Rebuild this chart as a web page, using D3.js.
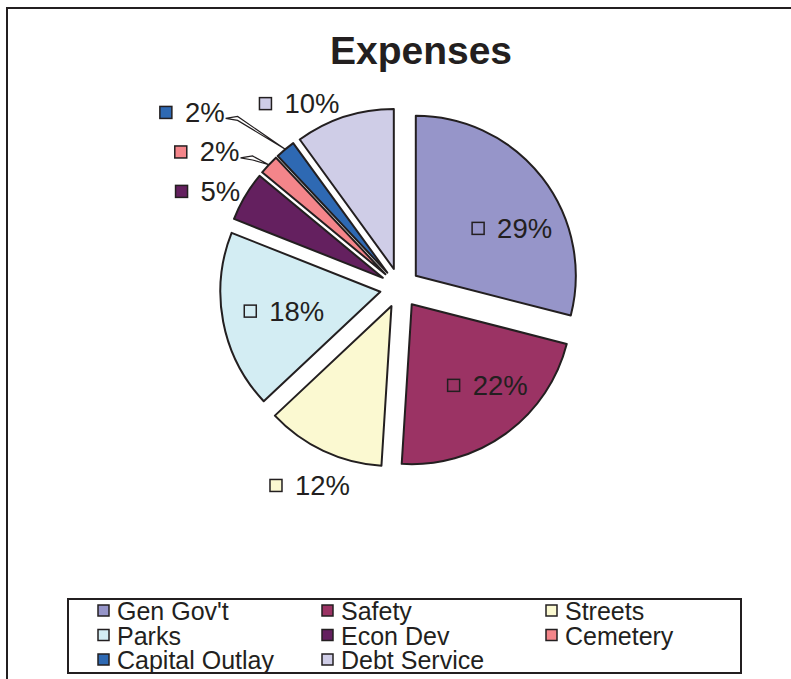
<!DOCTYPE html>
<html>
<head>
<meta charset="utf-8">
<script src="https://cdn.jsdelivr.net/npm/d3@7/dist/d3.min.js"></script>
<style>
  body { margin: 0; background: #fff; }
  svg { display: block; }
  text { font-family: "Liberation Sans", Arial, sans-serif; fill: #231f20; }
</style>
</head>
<body>
<div id="chart"></div>
<script>
// data
var categories = ["Gen Gov't", "Safety", "Streets", "Parks", "Econ Dev", "Cemetery", "Capital Outlay", "Debt Service"];
var values = [29, 22, 12, 18, 5, 2, 2, 10];
var percentLabels = ["29%", "22%", "12%", "18%", "5%", "2%", "2%", "10%"];
var colors = ["#9695c9", "#9b3364", "#fbf9d1", "#d3edf3", "#64205f", "#f4858a", "#2e69b3", "#cfcde7"];

// label placement (polar, degrees clockwise from 12 o'clock, px from pie centre)
var labelAngle = [62, 138, 204.5, 258.7, 296.7, 305.2, 310.2, 331.4];
var labelRadius = [127, 131, 217, 118, 215, 236, 272, 210];
var hasLeader = [false, false, false, false, false, true, true, false];

var width = 791, height = 679;
var cx = 400, cy = 288, radius = 160, explode = 20;
var ink = "#231f20";

var svg = d3.select("#chart")
    .append("svg")
    .attr("width", width)
    .attr("height", height);

// outer chart frame
svg.append("rect")
    .attr("x", 7)
    .attr("y", 8)
    .attr("width", 820)
    .attr("height", 700)
    .attr("fill", "none")
    .attr("stroke", ink)
    .attr("stroke-width", 2);

// title
svg.append("text")
    .attr("x", 421)
    .attr("y", 64)
    .attr("text-anchor", "middle")
    .attr("font-size", "39px")
    .attr("font-weight", "bold")
    .text("Expenses");

var pie = d3.pie().sort(null).value(function (d) { return d; });
var arcs = pie(values);
var arc = d3.arc().innerRadius(0).outerRadius(radius);

function offset(d, r) {
    var a = (d.startAngle + d.endAngle) / 2;
    return [Math.sin(a) * r, -Math.cos(a) * r];
}

var g = svg.append("g")
    .attr("transform", "translate(" + cx + "," + cy + ")");

g.selectAll("path.slice")
    .data(arcs)
    .enter()
    .append("path")
    .attr("class", "slice")
    .attr("transform", function (d) {
        var o = offset(d, explode);
        return "translate(" + o[0] + "," + o[1] + ")";
    })
    .attr("d", arc)
    .attr("fill", function (d, i) { return colors[i]; })
    .attr("stroke", ink)
    .attr("stroke-width", 2)
    .attr("stroke-linejoin", "round");

// data labels: small key square + percent
var labels = g.selectAll("g.label")
    .data(arcs)
    .enter()
    .append("g")
    .attr("class", "label");

labels.each(function (d, i) {
    var sel = d3.select(this);
    var a = labelAngle[i] * Math.PI / 180;
    var lx = Math.sin(a) * labelRadius[i];
    var ly = -Math.cos(a) * labelRadius[i];
    var t = sel.append("text")
        .attr("font-size", "27.5px")
        .attr("y", ly + 9.5)
        .text(percentLabels[i]);
    var tw = t.node().getComputedTextLength();
    var box = 12, gap = 13;
    var left = lx - (box + gap + tw) / 2;
    t.attr("x", left + box + gap);
    sel.insert("rect", "text")
        .attr("x", left)
        .attr("y", ly - box / 2)
        .attr("width", box)
        .attr("height", box)
        .attr("fill", colors[i])
        .attr("stroke", ink)
        .attr("stroke-width", 1.5);

    if (hasLeader[i]) {
        var o = offset(d, explode);
        var tip = offset(d, radius);
        var px = o[0] + tip[0], py = o[1] + tip[1];
        var sx = left + box + gap + tw + 1, sy = ly + 6;
        var ex = sx + 12;
        sel.append("path")
            .attr("d", "M" + sx + "," + sy + "L" + ex + "," + (sy - 2) + "L" + px + "," + py +
                "L" + ex + "," + (sy + 2) + "Z")
            .attr("fill", "#fff")
            .attr("stroke", ink)
            .attr("stroke-width", 1.2);
    }
});

// legend
var legend = svg.append("g");
legend.append("rect")
    .attr("x", 68)
    .attr("y", 599)
    .attr("width", 673)
    .attr("height", 74)
    .attr("fill", "#fff")
    .attr("stroke", ink)
    .attr("stroke-width", 2);

var legX = 117, colW = 224, legY = 620, rowH = 24.5;
var items = legend.selectAll("g.item")
    .data(categories)
    .enter()
    .append("g")
    .attr("class", "item")
    .attr("transform", function (d, i) {
        return "translate(" + (legX + (i % 3) * colW) + "," + (legY + Math.floor(i / 3) * rowH) + ")";
    });

items.append("rect")
    .attr("x", -19)
    .attr("y", -15)
    .attr("width", 11)
    .attr("height", 11)
    .attr("fill", function (d, i) { return colors[i]; })
    .attr("stroke", ink)
    .attr("stroke-width", 1.5);

items.append("text")
    .attr("font-size", "25px")
    .text(function (d) { return d; });
</script>
</body>
</html>
